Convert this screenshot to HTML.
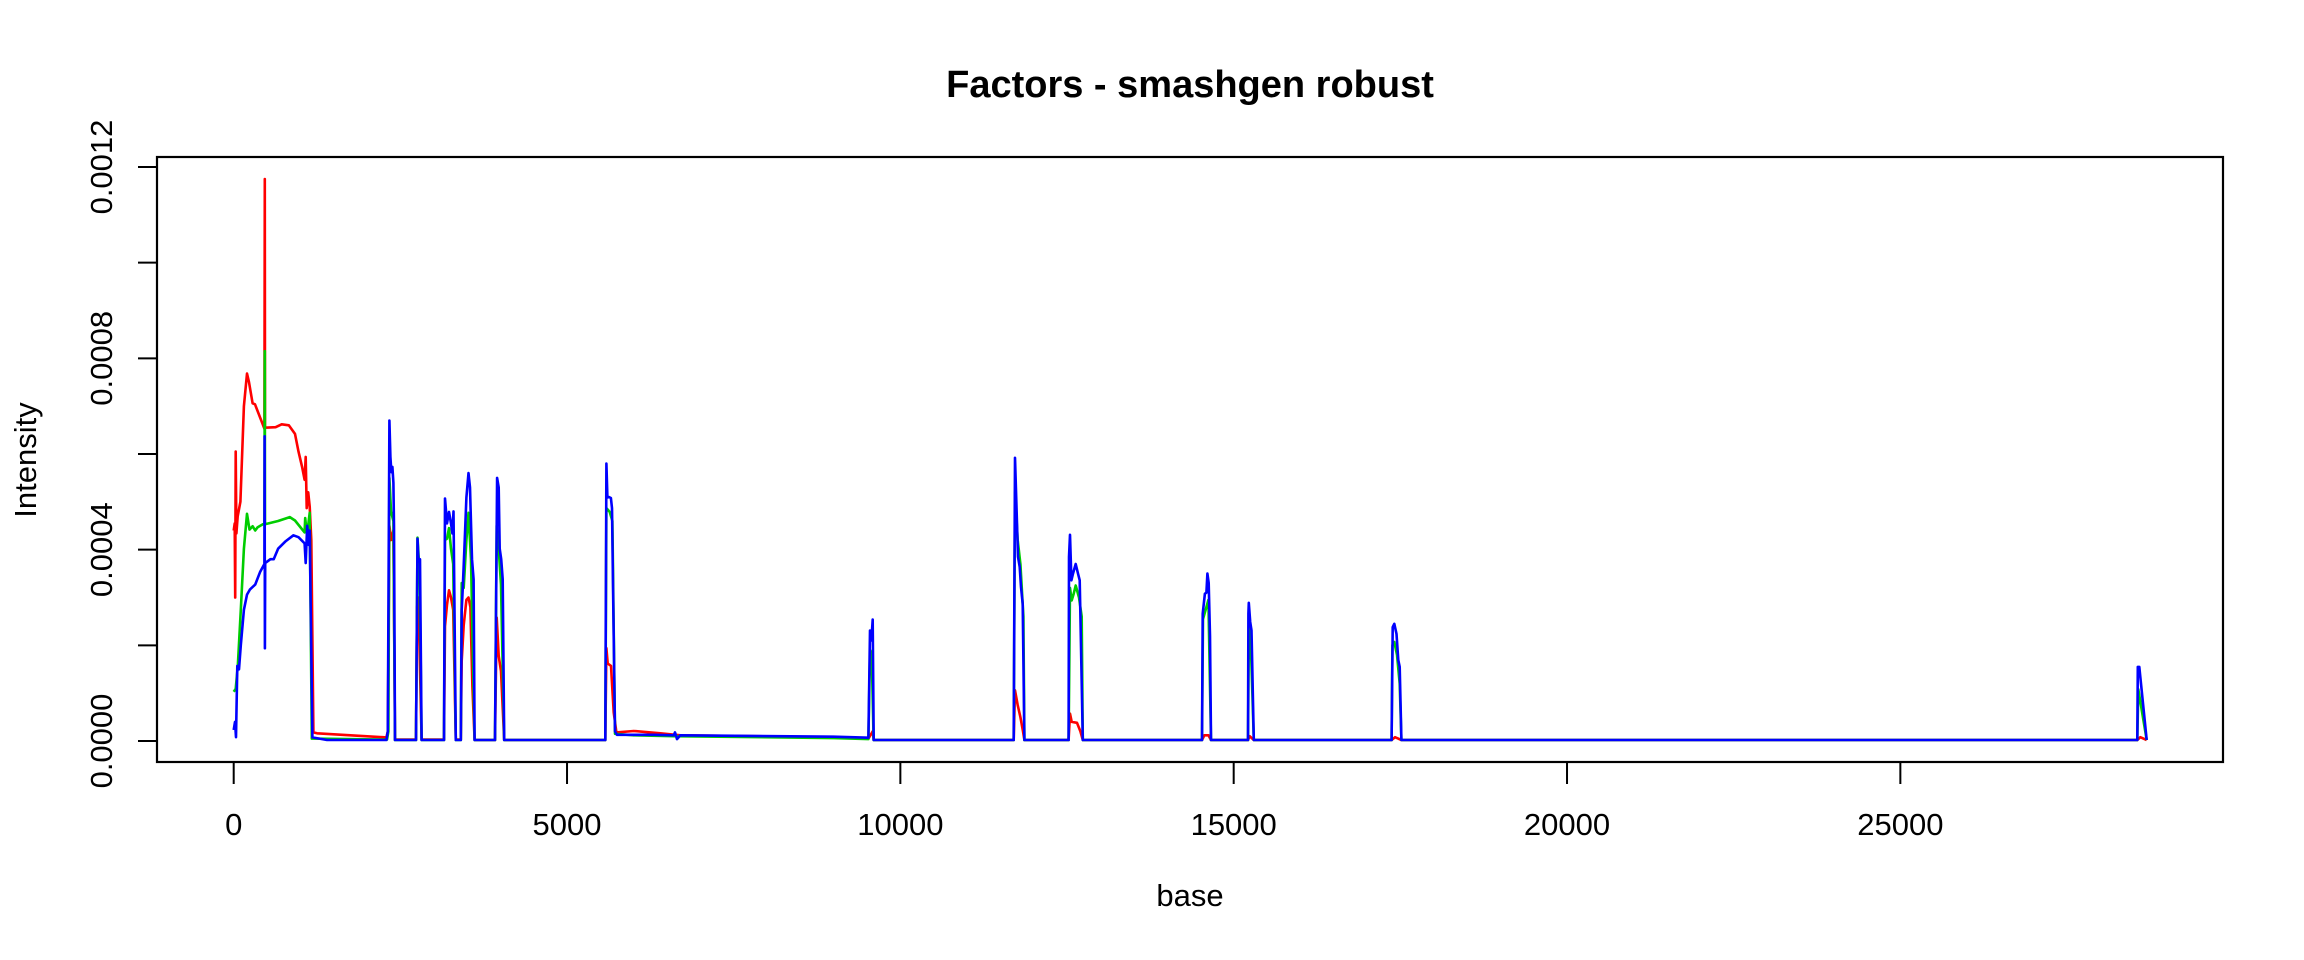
<!DOCTYPE html>
<html><head><meta charset="utf-8"><style>
html,body{margin:0;padding:0;background:#fff;}
svg{display:block;font-family:"Liberation Sans",Arial,sans-serif;}
</style></head><body>
<svg id="chart" width="2304" height="960" viewBox="0 0 2304 960" xmlns="http://www.w3.org/2000/svg">
<rect x="0" y="0" width="2304" height="960" fill="#fff"/>
<text x="1190" y="97" text-anchor="middle" font-size="38" font-weight="bold">Factors - smashgen robust</text>
<text x="1190" y="906" text-anchor="middle" font-size="31">base</text>
<text x="36" y="460" text-anchor="middle" font-size="31" transform="rotate(-90 36 460)">Intensity</text>
<g id="xaxis"></g>
<g id="yaxis"></g>
<g id="series"></g>
<rect x="157" y="157" width="2066" height="605" fill="none" stroke="#000" stroke-width="2.2"/>
</svg>
<script>
const xTicks = [0, 5000, 10000, 15000, 20000, 25000];
const xTickLabels = ["0", "5000", "10000", "15000", "20000", "25000"];
const yTicks = [0, 0.0002, 0.0004, 0.0006, 0.0008, 0.0010, 0.0012];
const yTickLabels = ["0.0000", "", "0.0004", "", "0.0008", "", "0.0012"];

const redSeries = [[0,0.00044],[15,0.000455],[22,0.0003],[30,0.000605],[40,0.000434],[60,0.00047],[100,0.0005],[153,0.0007],[199,0.000768],[230,0.00075],[283,0.000706],[320,0.000704],[460,0.000653],[466,0.001175],[470,0.000655],[628,0.000656],[720,0.000662],[827,0.00066],[919,0.000642],[972,0.000605],[1026,0.000573],[1064,0.000546],[1080,0.000594],[1095,0.000487],[1118,0.00052],[1140,0.00049],[1164,0.00042],[1195,0.000018],[1250,0.000016],[2290,0.0000075],[2312,0.00002],[2335,0.00045],[2360,0.00042],[2395,0.00044],[2420,0.000003],[2734,0.000003],[2750,0.00028],[2770,0.0003],[2818,0.000003],[3155,0.000003],[3170,0.00024],[3200,0.000285],[3230,0.000315],[3260,0.0003],[3293,0.000274],[3331,0.000003],[3407,0.000003],[3420,0.000167],[3450,0.000242],[3490,0.000295],[3522,0.0003],[3550,0.00028],[3580,0.000114],[3614,0.000002],[3920,0.000002],[3945,0.000258],[3975,0.000178],[4010,0.000146],[4058,0.000002],[5574,0.000002],[5590,0.000194],[5610,0.000162],[5660,0.000157],[5700,0.00006],[5740,0.000018],[6000,0.000021],[6400,0.000016],[6700,0.000012],[9000,0.000008],[9520,0.000005],[9585,0.00002],[9600,0.000002],[11700,0.000002],[11720,0.000106],[11760,0.000075],[11800,0.00005],[11840,0.00002],[11860,0.000002],[12523,0.000002],[12545,0.000057],[12570,0.00004],[12650,0.000038],[12700,0.00002],[12737,0.000002],[14525,0.000002],[14560,0.000012],[14620,0.000012],[14659,0.000002],[15214,0.000002],[15240,0.00001],[15301,0.000002],[17369,0.000002],[17420,0.000008],[17516,0.000002],[28554,0.000002],[28600,0.000008],[28695,0.000002]];

const greenSeries = [[0,0.000103],[30,0.000109],[61,0.000157],[107,0.000274],[153,0.000402],[199,0.000475],[237,0.000442],[283,0.000449],[322,0.00044],[360,0.000447],[460,0.000455],[466,0.000815],[470,0.000453],[666,0.00046],[842,0.000468],[919,0.000461],[1064,0.000436],[1072,0.000466],[1100,0.00043],[1140,0.000477],[1172,0.000005],[2300,0.000003],[2320,0.00002],[2335,0.00055],[2360,0.00048],[2395,0.00046],[2420,0.000002],[2734,0.000002],[2757,0.000425],[2790,0.00035],[2818,0.000002],[3155,0.000002],[3170,0.00042],[3200,0.000423],[3230,0.000445],[3260,0.000402],[3293,0.00037],[3331,0.000002],[3407,0.000002],[3420,0.00033],[3450,0.00032],[3490,0.00042],[3522,0.000477],[3560,0.00038],[3614,0.000002],[3920,0.000002],[3945,0.00045],[3975,0.000402],[4010,0.000327],[4058,0.000002],[5574,0.000002],[5590,0.000487],[5640,0.000479],[5680,0.00046],[5720,0.000015],[6000,0.000012],[6600,0.00001],[9000,0.000006],[9520,0.000004],[9545,0.00019],[9570,0.000183],[9598,0.000002],[11700,0.000002],[11720,0.00052],[11760,0.00042],[11800,0.00037],[11845,0.00026],[11860,0.000002],[12523,0.000002],[12545,0.00032],[12570,0.000294],[12600,0.000308],[12630,0.000325],[12680,0.0003],[12720,0.00026],[12737,0.000002],[14525,0.000002],[14540,0.000255],[14590,0.00028],[14620,0.000295],[14659,0.000002],[15214,0.000002],[15230,0.00026],[15260,0.00019],[15301,0.000002],[17369,0.000002],[17380,0.0002],[17409,0.000207],[17450,0.00018],[17490,0.00012],[17516,0.000002],[28554,0.000002],[28570,0.000108],[28695,0.000002]];

const blueSeries = [[0,0.000023],[20,0.00004],[35,0.000008],[54,0.000157],[80,0.00015],[107,0.0002],[153,0.000274],[199,0.000306],[245,0.000317],[322,0.000327],[398,0.000354],[460,0.00037],[464,0.000637],[468,0.000194],[472,0.000372],[551,0.00038],[600,0.00038],[666,0.000402],[781,0.000418],[896,0.00043],[972,0.000426],[1064,0.000413],[1080,0.000372],[1103,0.00045],[1125,0.00041],[1140,0.00044],[1180,0.0000075],[1400,0.000002],[2290,0.000002],[2312,0.00002],[2335,0.00067],[2350,0.000594],[2365,0.000562],[2380,0.000573],[2395,0.00054],[2405,0.00045],[2420,0.000002],[2734,0.000002],[2757,0.000423],[2772,0.000375],[2795,0.00038],[2818,0.000002],[3155,0.000002],[3170,0.000507],[3200,0.000455],[3230,0.000479],[3260,0.000455],[3280,0.000434],[3297,0.00048],[3331,0.000002],[3407,0.000002],[3420,0.000274],[3435,0.000317],[3460,0.000402],[3490,0.000509],[3522,0.00056],[3545,0.00053],[3575,0.00038],[3598,0.000338],[3614,0.000002],[3920,0.000002],[3951,0.00055],[3975,0.00053],[3990,0.000402],[4012,0.00038],[4035,0.000338],[4058,0.000002],[5574,0.000002],[5590,0.00058],[5605,0.000509],[5628,0.00051],[5658,0.000508],[5674,0.000487],[5690,0.000327],[5720,0.00002],[5750,0.000013],[6300,0.000013],[6600,0.000012],[6620,0.000018],[6650,0.000004],[6700,0.000012],[9000,0.000009],[9520,0.000007],[9545,0.000231],[9565,0.00021],[9585,0.000254],[9600,0.000002],[11700,0.000002],[11720,0.000592],[11745,0.000475],[11765,0.000385],[11790,0.000364],[11810,0.000322],[11835,0.000287],[11860,0.000002],[12523,0.000002],[12530,0.000385],[12545,0.000431],[12565,0.000336],[12590,0.00035],[12630,0.00037],[12665,0.00035],[12690,0.000336],[12705,0.00023],[12737,0.000002],[14525,0.000002],[14535,0.000266],[14568,0.000308],[14590,0.00031],[14605,0.00035],[14625,0.00033],[14645,0.00022],[14659,0.000002],[15214,0.000002],[15220,0.000266],[15227,0.000289],[15247,0.000249],[15267,0.000231],[15301,0.000002],[17369,0.000002],[17385,0.000238],[17409,0.000245],[17442,0.000224],[17469,0.000169],[17490,0.000155],[17516,0.000002],[28554,0.000002],[28562,0.000155],[28584,0.000155],[28695,0.000002]];

const NS = "http://www.w3.org/2000/svg";
function xScale(d){ return 233.7 + d * (333.33/5000); }
function yScale(v){ return 741 - v * (574/0.0012); }

const xg = document.getElementById('xaxis');
const yg = document.getElementById('yaxis');
const sg = document.getElementById('series');

let xl = document.createElementNS(NS,'line');


xl.setAttribute('x1',xScale(xTicks[0])); xl.setAttribute('x2',xScale(xTicks[xTicks.length-1]));
xl.setAttribute('y1',762); xl.setAttribute('y2',762);
xl.setAttribute('stroke','#000'); xl.setAttribute('stroke-width','2');
xg.appendChild(xl);
xTicks.forEach((t,i)=>{
  const l = document.createElementNS(NS,'line');
  
  
  l.setAttribute('x1',xScale(t)); l.setAttribute('x2',xScale(t));
  l.setAttribute('y1',762); l.setAttribute('y2',784);
  l.setAttribute('stroke','#000'); l.setAttribute('stroke-width','2');
  xg.appendChild(l);
  const tx = document.createElementNS(NS,'text');
  
  
  tx.setAttribute('x',xScale(t)); tx.setAttribute('y',835);
  tx.setAttribute('text-anchor','middle'); tx.setAttribute('font-size','31');
  tx.textContent = xTickLabels[i];
  xg.appendChild(tx);
});

let yl = document.createElementNS(NS,'line');


yl.setAttribute('x1',157); yl.setAttribute('x2',157);
yl.setAttribute('y1',yScale(yTicks[0])); yl.setAttribute('y2',yScale(yTicks[yTicks.length-1]));
yl.setAttribute('stroke','#000'); yl.setAttribute('stroke-width','2');
yg.appendChild(yl);
yTicks.forEach((t,i)=>{
  const l = document.createElementNS(NS,'line');
  
  
  l.setAttribute('x1',138); l.setAttribute('x2',157);
  l.setAttribute('y1',yScale(t)); l.setAttribute('y2',yScale(t));
  l.setAttribute('stroke','#000'); l.setAttribute('stroke-width','2');
  yg.appendChild(l);
  if(yTickLabels[i]){
    const tx = document.createElementNS(NS,'text');
    
    
    const y = yScale(t);
    tx.setAttribute('x',112); tx.setAttribute('y',y);
    tx.setAttribute('text-anchor','middle'); tx.setAttribute('font-size','31');
    tx.setAttribute('transform','rotate(-90 112 '+y+')');
    tx.textContent = yTickLabels[i];
    yg.appendChild(tx);
  }
});

function drawSeries(arr, color, name){
  const p = document.createElementNS(NS,'polyline');
  
  
  p.setAttribute('points', arr.map(d=>xScale(d[0]).toFixed(1)+','+yScale(d[1]).toFixed(1)).join(' '));
  p.setAttribute('fill','none');
  p.setAttribute('stroke',color);
  p.setAttribute('stroke-width','2.6');
  p.setAttribute('stroke-linejoin','round');
  sg.appendChild(p);
}
drawSeries(redSeries,'#ff0000','red-series-line');
drawSeries(greenSeries,'#00cd00','green-series-line');
drawSeries(blueSeries,'#0000ff','blue-series-line');
</script>
</body></html>
